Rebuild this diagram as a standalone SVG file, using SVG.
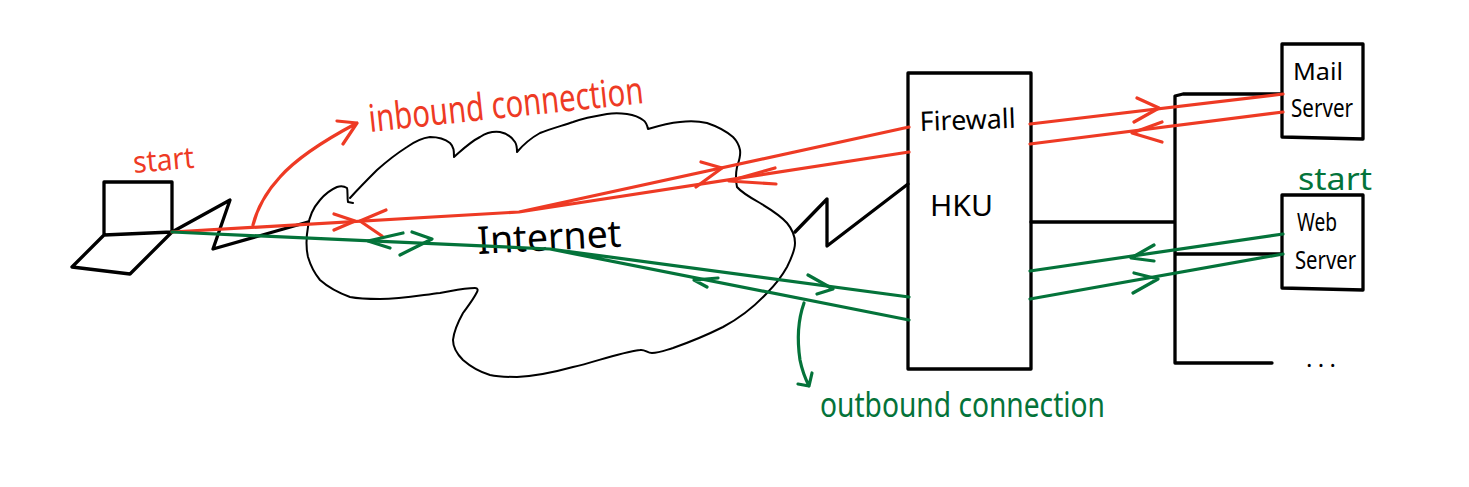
<svg xmlns="http://www.w3.org/2000/svg" width="1469" height="487" viewBox="0 0 1469 487">
<style>
.k{fill:none;stroke:#000;stroke-width:3.3;stroke-linejoin:round;stroke-linecap:round}
.c{fill:none;stroke:#000;stroke-width:2;stroke-linejoin:round;stroke-linecap:round}
.r{fill:none;stroke:#EE3A24;stroke-width:3.2;stroke-linejoin:round;stroke-linecap:round}
.g{fill:none;stroke:#04733A;stroke-width:3.2;stroke-linejoin:round;stroke-linecap:round}
text{font-family:"Noto Sans","Liberation Sans",sans-serif;font-weight:400}
.tk{fill:#000}.tr{fill:#EE3A24}.tg{fill:#04733A}
</style>
<rect width="1469" height="487" fill="#fff"/>
<g id="laptop"><path class="k" d="M104 235V182H172V232L104 235L72 267L130 274L172 232"/></g>
<g id="link-left"><path class="k" d="M172 232L230 200L213 249L308 222"/></g>
<g id="internet">
<path class="c" d="M353 203L348 202C347 196 348 191 347 188C344 186 340 186 337 187C330 190 325 194 320 200C313 208 309 217 308 227C306 238 306 248 308 257C311 267 315 274 320 280C329 288 339 293 350 297C360 299 370 299 380 299C402 299 422 295 440 293C452 291 464 288 475 288C478 288 478 290 477 292C473 300 468 306 463 313C458 322 454 330 453 340C453 348 457 354 463 360C471 367 480 372 490 375C499 377 508 377 517 377C537 376 555 372 573 367C595 362 618 353 640 350C645 349 647 353 652 353C659 353 666 350 673 348C690 342 707 335 723 327C740 318 755 306 767 293C775 285 782 276 787 267C791 259 795 251 795 243C795 236 792 229 787 223C780 215 770 209 760 203C751 198 742 193 737 187C735 178 736 172 737 167C739 161 741 156 740 150C739 145 737 141 733 137C726 131 716 126 707 123C698 121 689 121 680 122C669 123 658 126 648 129C647 124 646 122 643 120C638 116 633 115 627 114C620 113 613 113 607 114C595 116 584 118 573 122C561 126 550 129 540 133C531 138 523 145 517 152C517 148 517 145 515 142C511 136 506 133 500 132C492 131 486 133 480 137C470 142 462 150 454 157C454 151 454 147 450 143C445 139 437 137 430 137C422 138 414 142 407 147C396 154 386 162 377 170C368 179 359 188 350 198"/>
<text class="tk" x="478" y="254" font-size="38" textLength="144" lengthAdjust="spacingAndGlyphs" transform="rotate(-3 478 254)">Internet</text>
</g>
<g id="link-right"><path class="k" d="M795 232L827 199V246L908 184"/></g>
<g id="firewall">
<rect class="k" x="908" y="73" width="123" height="296"/>
<text class="tk" x="920" y="131" font-size="27" textLength="96" lengthAdjust="spacingAndGlyphs" transform="rotate(-2 920 131)">Firewall</text>
<text class="tk" x="930" y="216" font-size="29" textLength="63" lengthAdjust="spacingAndGlyphs">HKU</text>
</g>
<g id="bus"><path class="k" d="M1031 222H1175M1272 363H1175V96L1183 94H1282M1175 254H1282"/></g>
<g id="mail-server">
<path class="k" d="M1282 44H1363V139L1282 137Z"/>
<text class="tk" x="1293" y="80" font-size="24" textLength="50" lengthAdjust="spacingAndGlyphs">Mail</text>
<text class="tk" x="1291" y="117" font-size="25" textLength="62" lengthAdjust="spacingAndGlyphs">Server</text>
</g>
<g id="web-server">
<path class="k" d="M1282 195H1363V290L1282 288Z"/>
<text class="tk" x="1297" y="231" font-size="25" textLength="40" lengthAdjust="spacingAndGlyphs">Web</text>
<text class="tk" x="1295" y="269" font-size="25" textLength="61" lengthAdjust="spacingAndGlyphs">Server</text>
</g>
<g id="more"><text class="tk" x="1306" y="367" font-size="24" textLength="30" font-weight="700">...</text></g>
<g id="connectors">
<path class="r" d="M172 232L519 212L909 127M519 212L909 152M1030 124L1283 94M1030 144L1283 112"/>
<path class="r" d="M334 214L355 221L334 230M386 210L360 221L382 236M701 162L722 168L696 187M775 168L729 181L776 184M1137 98L1159 108L1134 122M1162 122L1132 133L1162 142"/>
<path class="r" d="M253 225C258 205 268 190 280 177C295 160 325 140 357 123M337 121L357 123L343 144"/>
<path class="g" d="M172 232L550 249L909 297M550 249L909 320M1030 271L1283 234M1030 299L1283 254"/>
<path class="g" d="M403 233L368 241L390 248M412 232L432 239L400 255M718 278L694 280L707 287M808 275L833 289L817 294M1154 245L1131 258L1154 261M1134 273L1158 279L1133 293"/>
<path class="g" d="M804 303C798 320 797 340 800 360C802 370 805 378 809 386M798 384L809 386L812 373"/>
</g>
<g id="label-start-red"><text class="tr" x="134" y="173" font-size="30" textLength="61" lengthAdjust="spacingAndGlyphs" transform="rotate(-5 134 173)">start</text></g>
<g id="label-inbound"><text class="tr" x="370" y="132" font-size="38" textLength="276" lengthAdjust="spacingAndGlyphs" transform="rotate(-6 370 132)">inbound connection</text></g>
<g id="label-start-green"><text class="tg" x="1298" y="190" font-size="30" textLength="74" lengthAdjust="spacingAndGlyphs">start</text></g>
<g id="label-outbound"><text class="tg" x="820" y="417" font-size="35" textLength="285" lengthAdjust="spacingAndGlyphs">outbound connection</text></g>
</svg>
